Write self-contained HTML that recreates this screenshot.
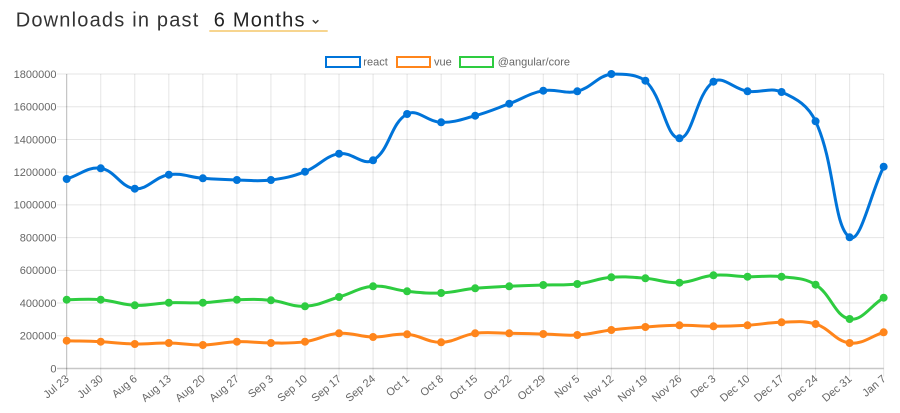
<!DOCTYPE html>
<html>
<head>
<meta charset="utf-8">
<style>
  html, body { margin: 0; padding: 0; background: #fff; }
  body { width: 900px; height: 413px; overflow: hidden; }
  svg { display: block; font-family: "Liberation Sans", Arial, sans-serif; }
</style>
</head>
<body>
<svg id="chart" width="900" height="413" viewBox="0 0 900 413" xmlns="http://www.w3.org/2000/svg">
  <rect x="0" y="0" width="900" height="413" fill="#fff"/>

  <!-- Title -->
  <text x="15.7" y="26.3" font-size="20" letter-spacing="1.2" fill="#333">Downloads in past</text>
  <text x="213.8" y="26.3" font-size="20" letter-spacing="1.2" fill="#222">6 Months</text>
  <path d="M312.8,20.2 L315.6,23 L318.4,20.2" fill="none" stroke="#333" stroke-width="1.4"/>
  <rect x="209.3" y="30" width="118.4" height="2" fill="#f7d58f"/>

  <!-- Legend -->
  <rect x="326" y="57" width="34" height="10" fill="#fff" stroke="#0074d9" stroke-width="2"/>
  <text x="363.3" y="61.5" dy="0.35em" font-size="11" fill="#666">react</text>
  <rect x="397" y="57" width="33" height="10" fill="#fff" stroke="#ff851b" stroke-width="2"/>
  <text x="434" y="61.5" dy="0.35em" font-size="11" fill="#666">vue</text>
  <rect x="460" y="57" width="33" height="10" fill="#fff" stroke="#2ecc40" stroke-width="2"/>
  <text x="497.7" y="61.5" dy="0.35em" font-size="11" fill="#666">@angular/core</text>

  <g id="grid"></g>
  <g id="ylabels" font-size="11" fill="#666" text-anchor="end"></g>
  <g id="xlabels" font-size="11" fill="#666" text-anchor="end"></g>

  <!-- Static fallback series (replaced by curves via script) -->
  <g id="series">
    <polyline class="fb" fill="none" stroke="#2ecc40" stroke-width="3" points="66.7,299.7 100.74,299.7 134.78,305.3 168.82,302.7 202.86,302.7 236.9,299.7 270.94,300.3 304.98,306.3 339.02,297 373.06,286.3 407.1,291.3 441.14,293 475.18,288.3 509.22,286.3 543.26,285 577.3,284 611.34,277.3 645.38,278.3 679.42,282.7 713.46,275.3 747.5,276.7 781.54,276.7 815.58,284.7 849.62,319 883.66,297.7"/>
    <polyline class="fb" fill="none" stroke="#ff851b" stroke-width="3" points="66.7,340.7 100.74,341.7 134.78,344 168.82,343 202.86,345 236.9,341.7 270.94,343 304.98,341.7 339.02,333.3 373.06,337 407.1,334.3 441.14,342.3 475.18,333.3 509.22,333.3 543.26,334 577.3,335 611.34,330 645.38,327 679.42,325.3 713.46,326.3 747.5,325.3 781.54,322.3 815.58,324 849.62,343 883.66,332.3"/>
    <polyline class="fb" fill="none" stroke="#0074d9" stroke-width="3" points="66.7,179 100.74,168.3 134.78,188.7 168.82,174.7 202.86,178.3 236.9,180 270.94,180 304.98,171.7 339.02,153.7 373.06,160.3 407.1,114 441.14,122.3 475.18,115.7 509.22,103.7 543.26,90.7 577.3,91.3 611.34,74 645.38,80.7 679.42,138.3 713.46,81.7 747.5,91.3 781.54,92 815.58,121.3 849.62,237.3 883.66,166.7"/>
  </g>
</svg>

<script>
(function(){
  var NS = "http://www.w3.org/2000/svg";
  var svg = document.getElementById('chart');
  var left = 66.7, step = 34.04, top = 74, bottom = 368.5, right = 883.66;
  var xs = [];
  for (var i = 0; i < 25; i++) xs.push(left + i * step);
  var labels = ["Jul 23","Jul 30","Aug 6","Aug 13","Aug 20","Aug 27","Sep 3","Sep 10","Sep 17","Sep 24","Oct 1","Oct 8","Oct 15","Oct 22","Oct 29","Nov 5","Nov 12","Nov 19","Nov 26","Dec 3","Dec 10","Dec 17","Dec 24","Dec 31","Jan 7"];

  function el(tag, attrs, parent, text){
    var e = document.createElementNS(NS, tag);
    for (var k in attrs) e.setAttribute(k, attrs[k]);
    if (text !== undefined) e.textContent = text;
    parent.appendChild(e);
    return e;
  }

  var grid = document.getElementById('grid');
  // horizontal grid lines
  var stepY = (bottom - top) / 9;
  for (var k = 0; k <= 9; k++) {
    var y = bottom - k * stepY;
    var isZero = (k === 0);
    el('line', {x1: 57, x2: right, y1: y, y2: y,
      stroke: isZero ? 'rgba(0,0,0,0.22)' : 'rgba(0,0,0,0.1)',
      'stroke-width': isZero ? 1.5 : 1}, grid);
    el('text', {x: 56.5, y: y, dy: '0.35em'}, document.getElementById('ylabels'), String(k * 200000));
  }
  // vertical grid lines
  for (var i = 0; i < 25; i++) {
    el('line', {x1: xs[i], x2: xs[i], y1: top, y2: bottom + 8,
      stroke: i === 0 ? 'rgba(0,0,0,0.28)' : 'rgba(0,0,0,0.1)', 'stroke-width': 1}, grid);
    el('text', {transform: 'translate(' + (xs[i] + 0.5) + ',377) rotate(-40)', dy: '0.35em'},
      document.getElementById('xlabels'), labels[i]);
  }

  var data = [
    {c: '#2ecc40', y: [299.7,299.7,305.3,302.7,302.7,299.7,300.3,306.3,297,286.3,291.3,293,288.3,286.3,285,284,277.3,278.3,282.7,275.3,276.7,276.7,284.7,319,297.7]},
    {c: '#ff851b', y: [340.7,341.7,344,343,345,341.7,343,341.7,333.3,337,334.3,342.3,333.3,333.3,334,335,330,327,325.3,326.3,325.3,322.3,324,343,332.3]},
    {c: '#0074d9', y: [179,168.3,188.7,174.7,178.3,180,180,171.7,153.7,160.3,114,122.3,115.7,103.7,90.7,91.3,74,80.7,138.3,81.7,91.3,92,121.3,237.3,166.7]}
  ];

  var series = document.getElementById('series');
  var fbs = series.querySelectorAll('.fb');
  for (var f = 0; f < fbs.length; f++) fbs[f].parentNode.removeChild(fbs[f]);

  function clampY(v){ return Math.max(top, Math.min(bottom, v)); }
  function clampX(v){ return Math.max(left, Math.min(right, v)); }

  data.forEach(function(ds){
    var pts = xs.map(function(x, i){ return {x: x, y: ds.y[i]}; });
    var n = pts.length, t = 0.4;
    for (var i = 0; i < n; i++) {
      var p = pts[i], pr = pts[i-1] || p, nx = pts[i+1] || p;
      var d01 = Math.hypot(p.x - pr.x, p.y - pr.y);
      var d12 = Math.hypot(nx.x - p.x, nx.y - p.y);
      var s01 = d01 / (d01 + d12), s12 = d12 / (d01 + d12);
      if (isNaN(s01)) s01 = 0; if (isNaN(s12)) s12 = 0;
      var fa = t * s01, fb = t * s12;
      p.px = clampX(p.x - fa * (nx.x - pr.x));
      p.py = clampY(p.y - fa * (nx.y - pr.y));
      p.nx = clampX(p.x + fb * (nx.x - pr.x));
      p.ny = clampY(p.y + fb * (nx.y - pr.y));
    }
    var d = 'M' + pts[0].x + ',' + pts[0].y;
    for (var i = 1; i < n; i++) {
      var a = pts[i-1], b = pts[i];
      d += ' C' + a.nx + ',' + a.ny + ' ' + b.px + ',' + b.py + ' ' + b.x + ',' + b.y;
    }
    var g = el('g', {}, series);
    el('path', {d: d, fill: 'none', stroke: ds.c, 'stroke-width': 3, 'stroke-linejoin': 'round'}, g);
    pts.forEach(function(p){
      el('circle', {cx: p.x, cy: p.y, r: 4, fill: ds.c}, g);
    });
  });
})();
</script>
</body>
</html>
